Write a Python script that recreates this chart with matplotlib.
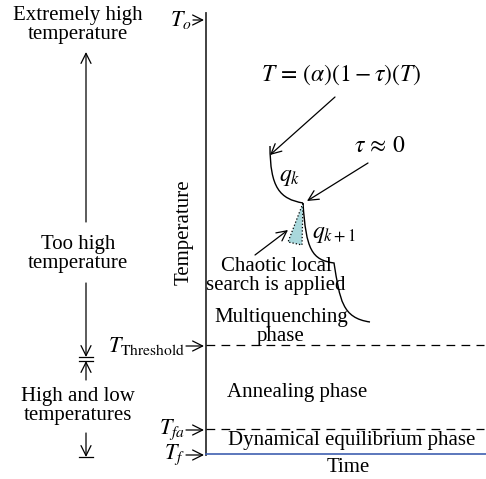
import matplotlib.pyplot as plt
from matplotlib.path import Path
from matplotlib.patches import PathPatch, Polygon

plt.rcParams['font.family'] = ['Liberation Serif', 'DejaVu Serif']
plt.rcParams['mathtext.fontset'] = 'stix'

# niveaux de temperature (en pixels de la figure)
level_names = [r'$T_o$', r'$T_{\rm Threshold}$', r'$T_{fa}$', r'$T_f$']
level_y = [20, 346, 430, 455]

# phases
phase_labels = ['Multiquenching\nphase', 'Annealing phase', 'Dynamical equilibrium phase']
phase_x = [281, 297, 352]
phase_y = [327, 393, 440]

# zones a gauche
zone_labels = ['Extremely high\ntemperature', 'Too high\ntemperature', 'High and low\ntemperatures']
zone_y = [25, 254, 406]

# courbes de refroidissement (points de Bezier)
curve_qk = [(270, 146), (270, 188), (280, 199), (303, 203)]
curve_qk1 = [(303, 203), (306, 250), (312, 260), (334, 263),
             (340, 300), (342, 318), (370, 322)]
triangle = [(303, 203), (288, 242), (302, 245)]

fig = plt.figure(figsize=(4.86, 4.79), dpi=100)
ax = fig.add_axes([0, 0, 1, 1])
ax.set_xlim(0, 486)
ax.set_ylim(479, 0)
ax.axis('off')

fs = 15
ls = 1.05
arr = dict(arrowstyle='->', lw=0.9, color='black', mutation_scale=18,
           shrinkA=0, shrinkB=0)

# axe vertical
ax.plot([206, 206], [13, 455], color='#333333', lw=1.3)
ax.plot([206, 486], [454, 454], color='#4060b0', lw=1.2)
for y in level_y[1:3]:
    ax.plot([206, 484], [y - 1, y - 1], color='black', lw=0.9, dashes=(7, 5))

# labels des niveaux
arrow_start = [193, 186, 186, 186]
for name, y, x0 in zip(level_names, level_y, arrow_start):
    ax.annotate('', xy=(204, y), xytext=(x0, y), arrowprops=arr)
    ax.text(x0 - 1, y, name, ha='right', va='center', fontsize=fs + 1)

ax.text(184, 232, 'Temperature', rotation=90, ha='center', va='center', fontsize=fs)
ax.text(348, 467, 'Time', ha='center', va='center', fontsize=fs)

for lab, x, y in zip(phase_labels, phase_x, phase_y):
    ax.text(x, y, lab, ha='center', va='center', fontsize=fs, linespacing=ls)

# zones a gauche
for lab, y in zip(zone_labels, zone_y):
    ax.text(78, y, lab, ha='center', va='center', fontsize=fs, linespacing=ls)
ax.annotate('', xy=(86, 52), xytext=(86, 222), arrowprops=arr)
ax.annotate('', xy=(86, 357), xytext=(86, 283), arrowprops=arr)
ax.plot([79, 93], [357, 357], color='black', lw=0.9)
ax.annotate('', xy=(86, 361), xytext=(86, 380), arrowprops=arr)
ax.plot([79, 93], [361, 361], color='black', lw=0.9)
ax.annotate('', xy=(86, 457), xytext=(86, 433), arrowprops=arr)
ax.plot([79, 93], [457, 457], color='black', lw=0.9)

# courbes
codes = [Path.MOVETO, Path.CURVE4, Path.CURVE4, Path.CURVE4]
ax.add_patch(PathPatch(Path(curve_qk, codes), fc='none', ec='black', lw=1.0))
codes2 = codes + [Path.CURVE4] * 3
ax.add_patch(PathPatch(Path(curve_qk1, codes2), fc='none', ec='black', lw=1.0))
ax.add_patch(Polygon(triangle, closed=True, fc='#a9d8dc', ec='black', lw=0.9, ls=':'))

ax.text(279, 177, r'$q_k$', ha='left', va='center', fontsize=fs + 2)
ax.text(312, 234, r'$q_{k+1}$', ha='left', va='center', fontsize=fs + 2)

ax.text(341, 75, r'$T\,=\,(\alpha)(1-\tau)(T)$', ha='center', va='center', fontsize=fs + 2)
ax.annotate('', xy=(270, 155), xytext=(335, 97), arrowprops=arr)
ax.text(380, 147, r'$\tau\,\approx\,0$', ha='center', va='center', fontsize=fs + 2)
ax.annotate('', xy=(307, 201), xytext=(368, 163), arrowprops=arr)

ax.text(276, 276, 'Chaotic local\nsearch is applied', ha='center', va='center',
        fontsize=fs, linespacing=ls)
ax.annotate('', xy=(288, 230), xytext=(255, 255), arrowprops=arr)

fig.savefig('out.png', dpi=100)
